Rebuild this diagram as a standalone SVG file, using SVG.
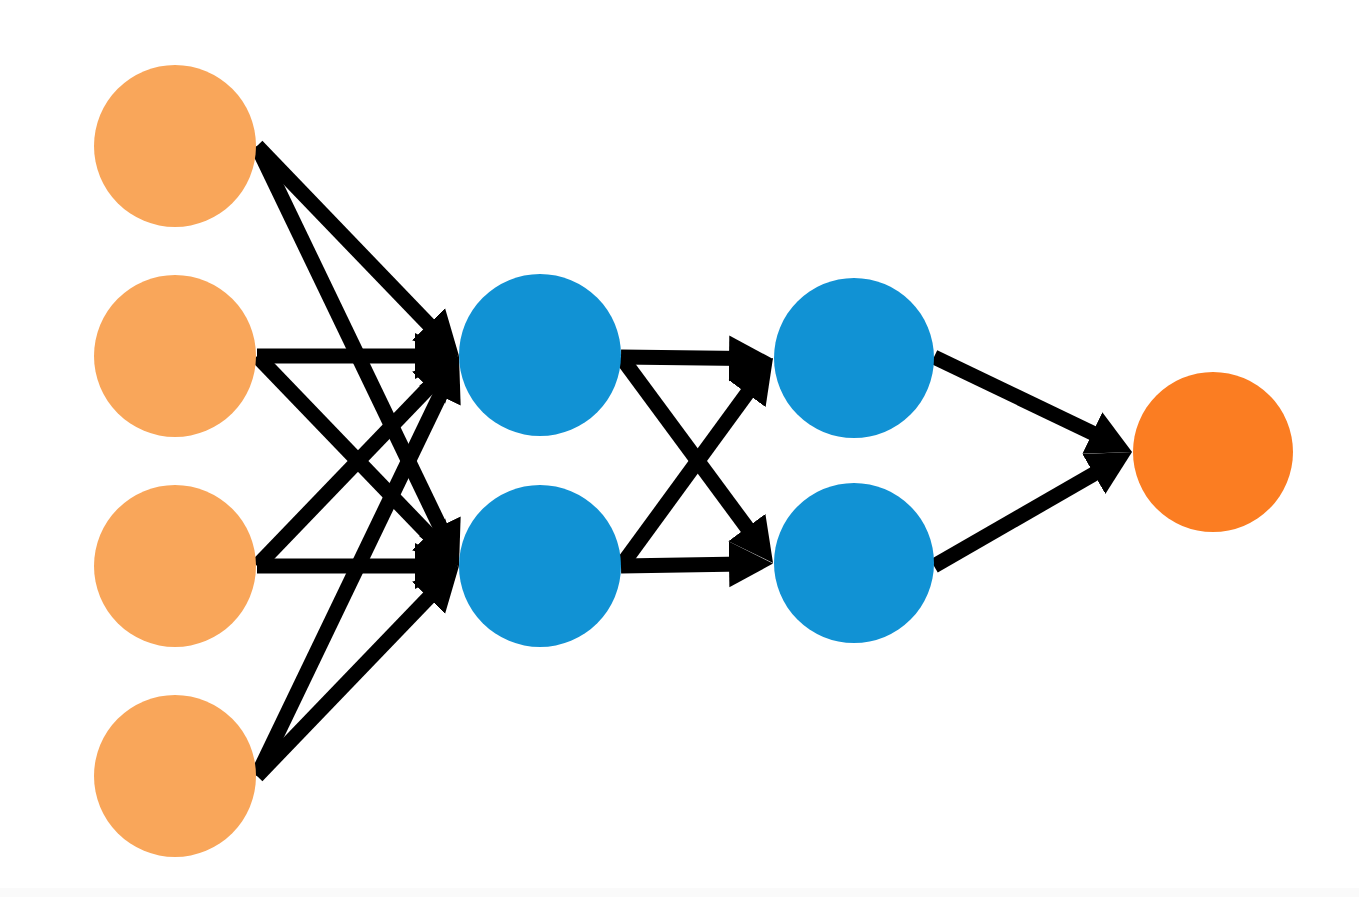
<svg xmlns="http://www.w3.org/2000/svg" width="1359" height="897" viewBox="0 0 1359 897">
  <defs>
    <style>
      .in { fill: #F9A65A; }
      .hid { fill: #1192D4; }
      .out { fill: #FB7D22; }
      .edge { stroke: #000; stroke-width: 15; fill: none; marker-end: url(#arrow); }
    </style>
    <marker id="arrow" markerUnits="userSpaceOnUse" markerWidth="46" markerHeight="48" refX="14" refY="24" orient="auto" viewBox="0 0 46 48">
      <path d="M0,1 L44,24 L0,47 z" fill="#000"/>
    </marker>
  </defs>
  <rect x="0" y="0" width="1359" height="897" fill="#FFFFFF"/>
  <rect x="0" y="888" width="1359" height="9" fill="#FAFAFA"/>
  <g id="connectors">
    <line class="edge" x1="257" y1="146" x2="438.2" y2="334.4"/>
    <line class="edge" x1="257" y1="146" x2="446" y2="539"/>
    <line class="edge" x1="257" y1="356" x2="429" y2="356"/>
    <line class="edge" x1="257" y1="356" x2="438.2" y2="544.4"/>
    <line class="edge" x1="257" y1="566" x2="438.2" y2="377.6"/>
    <line class="edge" x1="257" y1="566" x2="429" y2="566"/>
    <line class="edge" x1="257" y1="776" x2="446" y2="383"/>
    <line class="edge" x1="257" y1="776" x2="438.2" y2="587.6"/>
    <line class="edge" x1="621" y1="357" x2="743" y2="358.6"/>
    <line class="edge" x1="621" y1="357" x2="755.2" y2="538.8"/>
    <line class="edge" x1="621" y1="566" x2="755.3" y2="382.2"/>
    <line class="edge" x1="621" y1="566" x2="743" y2="564"/>
    <line class="edge" x1="934" y1="357" x2="1105" y2="439"/>
    <line class="edge" x1="934" y1="566" x2="1106" y2="467"/>
  </g>
  <g id="input1"><circle class="in" cx="175" cy="146" r="81"/></g>
  <g id="input2"><circle class="in" cx="175" cy="356" r="81"/></g>
  <g id="input3"><circle class="in" cx="175" cy="566" r="81"/></g>
  <g id="input4"><circle class="in" cx="175" cy="776" r="81"/></g>
  <g id="hidden1a"><circle class="hid" cx="540" cy="355" r="81"/></g>
  <g id="hidden1b"><circle class="hid" cx="540" cy="566" r="81"/></g>
  <g id="hidden2a"><circle class="hid" cx="854" cy="358" r="80"/></g>
  <g id="hidden2b"><circle class="hid" cx="854" cy="563" r="80"/></g>
  <g id="output"><circle class="out" cx="1213" cy="452" r="80"/></g>
</svg>
